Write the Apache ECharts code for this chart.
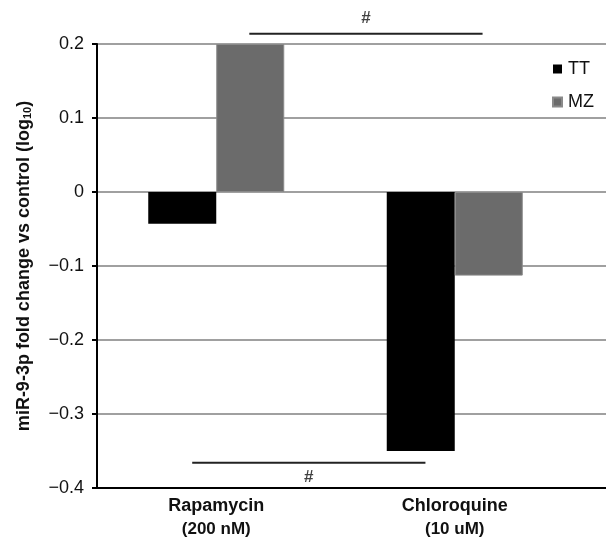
<!DOCTYPE html>
<html>
<head>
<meta charset="utf-8">
<script src="https://cdn.jsdelivr.net/npm/echarts@6/dist/echarts.min.js"></script>
<style>
  html, body { margin: 0; padding: 0; background: #fff; }
  #chart { width: 606px; height: 540px; }
</style>
</head>
<body>
<div id="chart"></div>
<script>
// categories and series values (log10 fold change vs control)
const categories = ["Rapamycin", "Chloroquine"];
const doses = ["(200 nM)", "(10 uM)"];
const ttValues = [-0.043, -0.35];
const mzValues = [0.2, -0.113];

// significance brackets, in data units of the overlay axis (1 unit = one category band)
const sigTopX = [0.64, 1.62];
const sigTopY = 0.214;
const sigBottomX = [0.4, 1.38];
const sigBottomY = -0.366;

const FONT = "Liberation Sans, Arial, sans-serif";
const chart = echarts.init(document.getElementById("chart"));

const fmtTick = (v) => {
  const r = Math.round(v * 10) / 10;
  if (r === 0) return "0";
  return (r < 0 ? "\u2212" : "") + Math.abs(r).toFixed(1);
};

// overlay axis spans the full plot width (gridlines run past the last band)
const xMaxOverlay = 509 / 238;

const option = {
  animation: false,
  backgroundColor: "#fff",
  textStyle: { fontFamily: FONT },
  grid: [
    { left: 97, right: 32, top: 44, bottom: 52 },
    { left: 97, right: 0, top: 44, bottom: 52 },
  ],
  legend: {
    orient: "vertical",
    left: 547,
    top: 55,
    itemWidth: 9,
    itemHeight: 9,
    itemGap: 15,
    icon: "rect",
    data: ["TT", "MZ"],
    textStyle: { fontSize: 18, color: "#111", fontFamily: FONT, padding: [0, 0, 0, 1] },
  },
  xAxis: [
    {
      type: "category",
      gridIndex: 0,
      data: categories,
      axisLine: { show: false },
      axisTick: { show: false },
      axisLabel: {
        margin: 7,
        formatter: (v, i) => `{a|${v}}\n{b|${doses[i]}}`,
        rich: {
          a: { fontSize: 18, fontWeight: "bold", color: "#111", lineHeight: 22, fontFamily: FONT },
          b: { fontSize: 17, fontWeight: "bold", color: "#111", lineHeight: 24, fontFamily: FONT },
        },
      },
    },
    {
      type: "value",
      gridIndex: 1,
      min: 0,
      max: xMaxOverlay,
      axisLine: { show: true, onZero: false, lineStyle: { color: "#000", width: 2 } },
      axisTick: { show: false },
      axisLabel: { show: false },
      splitLine: { show: false },
    },
  ],
  yAxis: [
    {
      type: "value",
      gridIndex: 0,
      min: -0.4,
      max: 0.2,
      interval: 0.1,
      show: false,
    },
    {
      type: "value",
      gridIndex: 1,
      min: -0.4,
      max: 0.2,
      interval: 0.1,
      axisLine: { show: true, lineStyle: { color: "#000", width: 2 } },
      axisTick: { show: true, inside: false, length: 5, lineStyle: { color: "#000", width: 2 } },
      axisLabel: { margin: 13, fontSize: 18, color: "#111", formatter: fmtTick, fontFamily: FONT },
      splitLine: { show: true, lineStyle: { color: "#a0a0a0", width: 2 } },
      name: "miR-9-3p fold change vs control (log{s|10})",
      nameLocation: "middle",
      nameRotate: 90,
      nameGap: 64,
      nameTextStyle: {
        fontSize: 18,
        fontWeight: "bold",
        color: "#111",
        fontFamily: FONT,
        rich: { s: { fontSize: 11, fontWeight: "bold", verticalAlign: "bottom", color: "#111", fontFamily: FONT, padding: [5, 0, 0, 0] } },
      },
    },
  ],
  series: [
    {
      name: "TT",
      type: "bar",
      xAxisIndex: 0,
      yAxisIndex: 0,
      data: ttValues,
      barWidth: 68,
      barGap: "0%",
      itemStyle: { color: "#000" },
    },
    {
      name: "MZ",
      type: "bar",
      xAxisIndex: 0,
      yAxisIndex: 0,
      data: mzValues,
      barWidth: 68,
      barGap: "0%",
      itemStyle: { color: "#6b6b6b", borderColor: "#8a8a8a", borderWidth: 1 },
    },
    {
      type: "line",
      xAxisIndex: 1,
      yAxisIndex: 1,
      clip: false,
      symbol: "none",
      silent: true,
      lineStyle: { color: "#222", width: 2 },
      data: sigTopX.map((x) => [x, sigTopY]),
    },
    {
      type: "line",
      xAxisIndex: 1,
      yAxisIndex: 1,
      clip: false,
      symbol: "none",
      silent: true,
      lineStyle: { color: "#222", width: 2 },
      data: sigBottomX.map((x) => [x, sigBottomY]),
    },
    {
      type: "scatter",
      xAxisIndex: 1,
      yAxisIndex: 1,
      clip: false,
      symbolSize: 0,
      silent: true,
      data: [
        { value: [(sigTopX[0] + sigTopX[1]) / 2, sigTopY], label: { position: "top", distance: 7 } },
        { value: [(sigBottomX[0] + sigBottomX[1]) / 2, sigBottomY], label: { position: "bottom", distance: 6 } },
      ],
      label: {
        show: true,
        formatter: "#",
        fontSize: 17,
        fontWeight: "bold",
        color: "#111",
        fontFamily: FONT,
      },
    },
  ],
};

chart.setOption(option);
</script>
</body>
</html>
